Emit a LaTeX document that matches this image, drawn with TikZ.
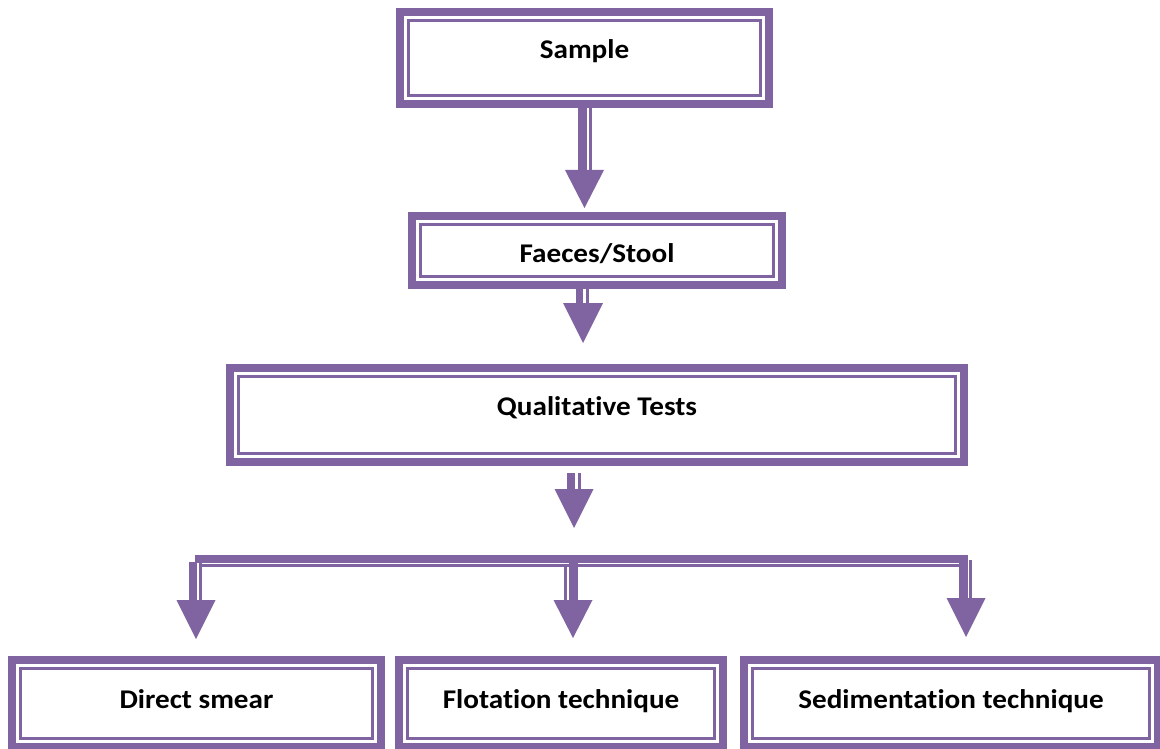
\documentclass[tikz,border=0pt]{standalone}
\usepackage{fontspec}
\setmainfont{Carlito}
\newfontfamily\labfont[FakeStretch=1.08,Ligatures=NoCommon]{Carlito}
\usetikzlibrary{calc}
\definecolor{vio}{RGB}{128,100,162}
\tikzset{
  tbox/.style={draw=vio, line width=8pt, rectangle, inner sep=0pt, outer sep=0pt, fill=white,
    font=\labfont\bfseries\fontsize{27}{32}\selectfont, text=black,
    path picture={\draw[vio, line width=2.4pt]
      ($(path picture bounding box.south west)+(8.6pt,8.6pt)$) rectangle
      ($(path picture bounding box.north east)+(-8.6pt,-8.6pt)$);}},
  bottombox/.style={tbox, minimum height=87pt, text height=16.5pt, text depth=7.5pt},
  shaft/.style={draw=vio, line width=#1},
  shaft/.default=9pt,
  thinline/.style={draw=vio, line width=#1},
  thinline/.default=2.6pt,
}
\newcommand\trihead[3]{\fill[vio] (#1) -- ++(-#2/2,-#3) -- ++(#2,0) -- cycle;}
\begin{document}
\begin{tikzpicture}[x=1pt,y=-1pt]
\useasboundingbox (0,0) rectangle (1160,749);
% boxes
\node[tbox, minimum width=369pt, minimum height=92pt, text height=13pt, text depth=11pt] (sample) at (584.5,58) {Sample};
\node[tbox, minimum width=370pt, minimum height=69pt, text height=23.5pt, text depth=0.5pt] (faeces) at (597,250.5) {Faeces/Stool};
\node[tbox, minimum width=734pt, minimum height=94pt, text height=12pt, text depth=12pt] (qual) at (597,415) {Qualitative Tests};
\node[bottombox, minimum width=369pt] (direct) at (196.5,703.5) {Direct smear};
\node[bottombox, minimum width=324pt] (flot) at (561,703.5) {Flotation technique};
\node[bottombox, minimum width=414pt] (sedi) at (951,703.5) {Sedimentation technique};
% arrow 1
\coordinate (t1) at (584.5,208);
\draw[shaft] ($(sample.south -| t1)+(-2,0)$) -- ($(t1)+(-2,-37)$);
\draw[thinline] ($(sample.south -| t1)+(6,0)$) -- ($(t1)+(6,-37)$);
\trihead{t1}{39}{38}
% arrow 2
\coordinate (t2) at (583,343);
\draw[shaft=7pt] ($(faeces.south -| t2)+(-3.5,0)$) -- ($(t2)+(-3.5,-39)$);
\draw[thinline=3pt] ($(faeces.south -| t2)+(4.5,0)$) -- ($(t2)+(4.5,-39)$);
\trihead{t2}{40}{40}
% arrow 3
\coordinate (t3) at (574,528);
\draw[shaft=8pt] ($(qual.south -| t3)+(-3,11)$) -- ($(t3)+(-3,-38)$);
\draw[thinline=3pt] ($(qual.south -| t3)+(5,11)$) -- ($(t3)+(5,-38)$);
\trihead{t3}{39}{39}
% branch bar
\coordinate (barL) at (195,558.5);
\coordinate (barR) at (968,558.5);
\draw[shaft=8pt] (barL) -- (barR);
\draw[thinline] ($(barL)+(5,7)$) -- ($(barR)+(-9,7)$);
% left branch
\coordinate (t4) at (196,639);
\draw[shaft=8pt] ($(t4 |- barL)+(-3,3.5)$) -- ($(t4)+(-3,-38)$);
\draw[thinline=3pt] ($(t4 |- barL)+(4,-3.5)$) -- ($(t4)+(4,-38)$);
\trihead{t4}{39}{39}
% middle branch
\coordinate (t5) at (573,638);
\draw[shaft=9pt] ($(t5 |- barL)+(0,2.5)$) -- ($(t5)+(0,-37)$);
\draw[thinline=2.6pt] ($(t5 |- barL)+(-7.5,8)$) -- ($(t5)+(-7.5,-37)$);
\trihead{t5}{39}{38}
% right branch
\coordinate (t6) at (966,637);
\draw[shaft=9pt] ($(t6 |- barR)+(-2.5,-4)$) -- ($(t6)+(-2.5,-38)$);
\draw[thinline=3pt] ($(t6 |- barR)+(4.5,1.5)$) -- ($(t6)+(4.5,-38)$);
\trihead{t6}{39}{39}
\end{tikzpicture}
\end{document}
